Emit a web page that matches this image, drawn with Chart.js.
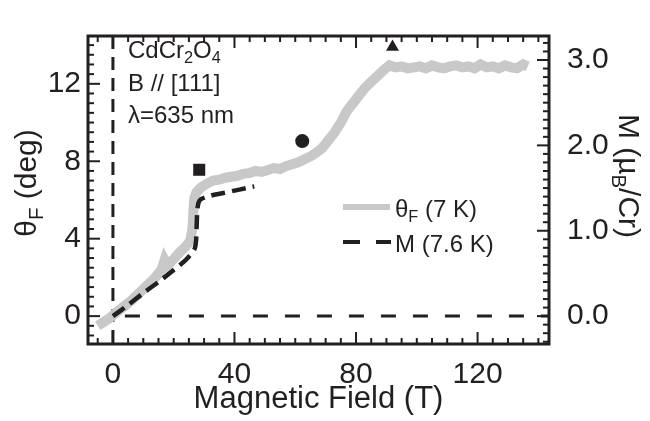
<!DOCTYPE html>
<html>
<head>
<meta charset="utf-8">
<script src="https://cdn.jsdelivr.net/npm/chart.js@4"></script>
<style>
  body { margin: 0; background: #fff; }
  #wrap { width: 650px; height: 421px; position: relative; }
</style>
</head>
<body>
<div id="wrap"><canvas id="grafica"></canvas></div>
<script>
// theta_F (7 K), degrees
const campoTheta = [-5, -3, -1, 0, 2, 4, 6, 8, 10, 12, 14, 16, 17, 18, 20, 22, 24, 25.5, 26.2, 26.5, 26.8, 27.5,
  29, 31, 33, 35, 37, 39, 41, 43, 45, 47, 49, 51, 53, 55, 57, 59, 61, 63, 65, 67, 69, 71, 73, 75, 77, 79,
  81, 83, 85, 87, 89, 91, 93, 95, 97, 99, 101, 103, 105, 107, 109, 111, 113, 115, 117, 119, 121, 123,
  125, 127, 129, 131, 133, 135, 136.5];
const theta = [-0.5, -0.3, -0.1, 0.05, 0.3, 0.55, 0.8, 1.1, 1.4, 1.7, 2.0, 2.4, 2.9, 2.6, 2.95, 3.3, 3.6, 3.9, 4.6, 5.5, 6.1, 6.4,
  6.65, 6.85, 7.0, 7.05, 7.15, 7.2, 7.25, 7.35, 7.4, 7.5, 7.45, 7.55, 7.65, 7.6, 7.75, 7.85, 7.95, 8.1, 8.25, 8.45, 8.7, 9.1, 9.5, 10.0, 10.6, 11.0,
  11.4, 11.8, 12.1, 12.4, 12.7, 12.95, 12.85, 12.9, 12.8, 12.85, 12.9, 12.8, 12.95, 12.85, 12.8, 12.9, 12.95, 12.85, 12.9, 12.8, 13.0, 12.85,
  12.9, 12.8, 12.95, 12.85, 12.8, 13.0, 12.9];

// M (7.6 K), muB/Cr
const campoM = [0, 5, 10, 15, 20, 24, 26, 27, 27.4, 27.6, 27.8, 28.2, 29, 32, 36, 40, 44, 46.5];
const magnetizacion = [0, 0.13, 0.27, 0.4, 0.54, 0.66, 0.74, 0.8, 0.9, 1.1, 1.25, 1.33, 1.37, 1.41, 1.44, 1.47, 1.5, 1.52];

// markers (field, theta)
const marcadoresX = [28.4, 62.3, 92];
const marcadoresY = [7.56, 9.04, 13.9];
const marcadoresForma = ['rect', 'circle', 'triangle'];

const ticksX = [0, 40, 80, 120];
const ticksY = [0, 4, 8, 12];
const ticksM = [0, 1, 2, 3];

const xMin = -8.2, xMax = 143.5;
const yMin = -1.44, yMax = 14.47;
const escalaM = 4.41; // deg per muB
const negro = '#231f20';
const fuente = '"Liberation Sans", Arial, sans-serif';

function textoRico(ctx, partes, x, y, size, align) {
  // partes: [texto, esSubindice]
  let total = 0;
  partes.forEach(p => {
    ctx.font = (p[1] ? size * 0.68 : size) + 'px ' + fuente;
    total += ctx.measureText(p[0]).width;
  });
  let cx = align === 'center' ? x - total / 2 : x;
  partes.forEach(p => {
    ctx.font = (p[1] ? size * 0.68 : size) + 'px ' + fuente;
    ctx.fillText(p[0], cx, p[1] ? y + size * 0.22 : y);
    cx += ctx.measureText(p[0]).width;
  });
}

const marcoPlugin = {
  id: 'marco',
  afterDatasetsDraw(chart) {
    const { ctx, chartArea: a, scales } = chart;
    ctx.save();
    ctx.strokeStyle = negro;
    ctx.lineWidth = 2;
    // minor and major ticks, inward
    for (let v = -5; v <= 140; v += 5) {
      const px = scales.x.getPixelForValue(v);
      const l = v % 40 === 0 ? 12 : 6;
      ctx.beginPath();
      ctx.moveTo(px, a.bottom); ctx.lineTo(px, a.bottom - l);
      ctx.moveTo(px, a.top); ctx.lineTo(px, a.top + l);
      ctx.stroke();
    }
    for (let v = -1; v <= 14; v += 0.5) {
      const py = scales.y.getPixelForValue(v);
      const l = v % 4 === 0 ? 12 : 6;
      ctx.beginPath();
      ctx.moveTo(a.left, py); ctx.lineTo(a.left + l, py);
      ctx.stroke();
    }
    for (let i = -3; i <= 32; i++) {
      const py = scales.y2.getPixelForValue(i / 10);
      const l = i % 10 === 0 ? 12 : 6;
      ctx.beginPath();
      ctx.moveTo(a.right, py); ctx.lineTo(a.right - l, py);
      ctx.stroke();
    }
    ctx.lineWidth = 3;
    ctx.strokeRect(a.left, a.top, a.right - a.left, a.bottom - a.top);

    ctx.fillStyle = negro;
    ctx.textBaseline = 'alphabetic';
    // axis titles
    textoRico(ctx, [['Magnetic Field (T)', false]], (a.left + a.right) / 2, 408, 31, 'center');
    ctx.save();
    ctx.translate(36, 183);
    ctx.rotate(-Math.PI / 2);
    textoRico(ctx, [['θ', false], ['F', true], [' (deg)', false]], 0, 0, 30, 'center');
    ctx.restore();
    ctx.save();
    ctx.translate(619, 176);
    ctx.rotate(Math.PI / 2);
    textoRico(ctx, [['M (µ', false], ['B', true], ['/Cr)', false]], 0, 0, 30, 'center');
    ctx.restore();

    // sample annotation
    textoRico(ctx, [['CdCr', false], ['2', true], ['O', false], ['4', true]], 128, 58, 24);
    textoRico(ctx, [['B // [111]', false]], 128, 91, 24);
    textoRico(ctx, [['λ=635 nm', false]], 128, 123, 24);

    // legend
    ctx.lineCap = 'butt';
    ctx.strokeStyle = '#c8c8c8';
    ctx.lineWidth = 6;
    ctx.beginPath(); ctx.moveTo(343, 207); ctx.lineTo(390, 207); ctx.stroke();
    ctx.strokeStyle = negro;
    ctx.lineWidth = 4;
    ctx.setLineDash([17, 16]);
    ctx.beginPath(); ctx.moveTo(343, 242); ctx.lineTo(391, 242); ctx.stroke();
    ctx.setLineDash([]);
    textoRico(ctx, [['θ', false], ['F', true], [' (7 K)', false]], 395, 217, 24);
    textoRico(ctx, [['M (7.6 K)', false]], 395, 252, 24);
    ctx.restore();
  }
};

const datosTheta = campoTheta.map((x, i) => ({ x: x, y: theta[i] }));
const datosM = campoM.map((x, i) => ({ x: x, y: magnetizacion[i] }));
const datosMarcas = marcadoresX.map((x, i) => ({ x: x, y: marcadoresY[i] }));

new Chart(document.querySelector('#grafica'), {
  type: 'scatter',
  data: {
    datasets: [
      {
        data: datosMarcas,
        pointStyle: marcadoresForma,
        pointRadius: [8.5, 7, 7.5],
        backgroundColor: negro,
        borderWidth: 0,
        order: 0
      },
      {
        data: datosM,
        yAxisID: 'y2',
        showLine: true,
        borderColor: negro,
        borderWidth: 4.5,
        borderDash: [14, 7],
        pointRadius: 0,
        tension: 0.3,
        order: 1
      },
      {
        data: datosTheta,
        showLine: true,
        borderColor: '#c8c8c8',
        borderWidth: 10,
        pointRadius: 0,
        order: 2
      },
      {
        data: [{ x: 0, y: yMax }, { x: 0, y: yMin }],
        showLine: true,
        borderColor: negro,
        borderWidth: 3,
        borderDash: [13, 8],
        pointRadius: 0,
        order: 3
      },
      {
        data: [{ x: 0, y: 0 }, { x: xMax, y: 0 }],
        showLine: true,
        borderColor: negro,
        borderWidth: 3,
        borderDash: [15, 17],
        borderDashOffset: -12,
        pointRadius: 0,
        order: 3
      }
    ]
  },
  options: {
    responsive: true,
    maintainAspectRatio: false,
    animation: false,
    layout: { padding: { top: 9, left: 0, right: 0, bottom: 0 } },
    plugins: { legend: { display: false }, tooltip: { enabled: false } },
    scales: {
      x: {
        type: 'linear', min: xMin, max: xMax,
        grid: { display: false, drawTicks: false },
        border: { display: false },
        afterBuildTicks: s => { s.ticks = ticksX.map(v => ({ value: v })); },
        afterFit: s => { s.height = 77; },
        ticks: { color: negro, padding: 13, font: { size: 30, family: fuente } }
      },
      y: {
        type: 'linear', min: yMin, max: yMax,
        grid: { display: false, drawTicks: false },
        border: { display: false },
        afterBuildTicks: s => { s.ticks = ticksY.map(v => ({ value: v })); },
        afterFit: s => { s.width = 88; },
        ticks: { color: negro, padding: 7, font: { size: 30, family: fuente } }
      },
      y2: {
        type: 'linear', position: 'right', min: yMin / escalaM, max: yMax / escalaM,
        grid: { display: false, drawTicks: false },
        border: { display: false },
        afterBuildTicks: s => { s.ticks = ticksM.map(v => ({ value: v })); },
        afterFit: s => { s.width = 101; },
        ticks: { color: negro, padding: 18, font: { size: 30, family: fuente },
          callback: v => v.toFixed(1) }
      }
    }
  },
  plugins: [marcoPlugin]
});
</script>
</body>
</html>
